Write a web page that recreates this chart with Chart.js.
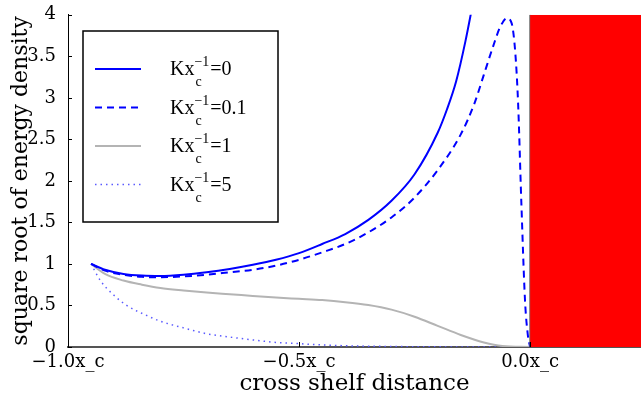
<!DOCTYPE html>
<html lang="en">
<head>
    <meta charset="UTF-8">
    <title>square root of energy density</title>
    <style>
    body {
        margin: 0;
        background-color: #ffffff;
    }
    .wrap {
        width: 641px;
        height: 404px;
    }
    </style>
</head>
<body>
    <div class="wrap"><canvas id="energyChart" width="641" height="404"></canvas></div>

    <script src="https://cdn.jsdelivr.net/npm/chart.js"></script>
    <script>
    // valores (x en unidades de x_c)
    const xK0 = [-0.95, -0.92, -0.88, -0.84, -0.80, -0.75, -0.70, -0.65, -0.60, -0.55, -0.50, -0.45, -0.40, -0.35, -0.30, -0.25, -0.20, -0.18, -0.16, -0.14, -0.12];
    const yK0 = [1.0, 0.93, 0.88, 0.86, 0.855, 0.87, 0.90, 0.94, 0.99, 1.05, 1.13, 1.24, 1.36, 1.53, 1.76, 2.08, 2.58, 2.86, 3.20, 3.68, 4.25];

    const xK01 = [-0.95, -0.92, -0.88, -0.84, -0.80, -0.75, -0.70, -0.65, -0.60, -0.55, -0.50, -0.45, -0.40, -0.35, -0.30, -0.25, -0.20, -0.15, -0.12, -0.10, -0.08, -0.065, -0.05, -0.04, -0.032, -0.026, -0.019, -0.011, -0.005, 0.0];
    const yK01 = [1.0, 0.92, 0.87, 0.845, 0.84, 0.85, 0.87, 0.90, 0.93, 0.98, 1.05, 1.14, 1.24, 1.38, 1.56, 1.80, 2.13, 2.56, 2.94, 3.28, 3.62, 3.85, 3.96, 3.90, 3.54, 2.94, 1.75, 0.56, 0.15, 0.0];

    const xK1 = [-0.95, -0.92, -0.88, -0.84, -0.80, -0.75, -0.70, -0.65, -0.60, -0.55, -0.50, -0.45, -0.40, -0.35, -0.30, -0.25, -0.20, -0.15, -0.10, -0.06, 0.0];
    const yK1 = [1.0, 0.88, 0.80, 0.75, 0.71, 0.68, 0.655, 0.635, 0.615, 0.595, 0.58, 0.565, 0.54, 0.505, 0.45, 0.365, 0.255, 0.145, 0.055, 0.012, 0.0];

    const xK5 = [-0.95, -0.93, -0.90, -0.87, -0.83, -0.80, -0.75, -0.70, -0.65, -0.60, -0.55, -0.50, -0.45, -0.40, -0.30, -0.20, -0.10, 0.0];
    const yK5 = [1.0, 0.80, 0.62, 0.49, 0.38, 0.31, 0.23, 0.16, 0.12, 0.085, 0.055, 0.04, 0.025, 0.015, 0.006, 0.002, 0.0, 0.0];

    // zona roja (pared) y borde
    const xWall = [0.0, 0.24];
    const yWall = [4, 4];

    const xTickValues = [-1.0, -0.5, 0.0];
    const xTickLabels = ['\u22121.0x_c', '\u22120.5x_c', '0.0x_c'];
    const yTickValues = [0, 0.5, 1, 1.5, 2, 2.5, 3, 3.5, 4];
    const yTickLabels = ['0', '0.5', '1', '1.5', '2', '2.5', '3', '3.5', '4'];

    const legendK = ['0', '0.1', '1', '5'];

    function puntos(xs, ys) {
        return xs.map((x, i) => ({ x: x, y: ys[i] }));
    }

    const series = [
        { data: puntos(xK0, yK0), color: '#0000ff', width: 2, dash: [] },
        { data: puntos(xK01, yK01), color: '#0000ff', width: 2, dash: [7, 5] },
        { data: puntos(xK1, yK1), color: '#b4b4b4', width: 2, dash: [] },
        { data: puntos(xK5, yK5), color: '#5a5aff', width: 1.5, dash: [1.5, 4] }
    ];

    // leyenda propia con subindice y superindice
    const leyenda = {
        id: 'leyenda',
        afterDatasetsDraw(chart) {
            const ctx = chart.ctx;
            ctx.save();
            ctx.fillStyle = '#ffffff';
            ctx.fillRect(83, 31, 195, 191);
            ctx.strokeStyle = '#000000';
            ctx.lineWidth = 1.5;
            ctx.strokeRect(83, 31, 195, 191);
            legendK.forEach((k, i) => {
                const s = series[i];
                const y = 69 + i * 38.5;
                ctx.beginPath();
                ctx.strokeStyle = s.color;
                ctx.lineWidth = s.width;
                ctx.setLineDash(s.dash);
                ctx.moveTo(95, y);
                ctx.lineTo(141, y);
                ctx.stroke();
                ctx.setLineDash([]);
                ctx.fillStyle = '#000000';
                ctx.textBaseline = 'alphabetic';
                ctx.textAlign = 'left';
                ctx.font = '20px "Liberation Serif"';
                ctx.fillText('Kx', 170, y + 6);
                const w = ctx.measureText('Kx').width;
                ctx.font = '14px "Liberation Serif"';
                ctx.fillText('\u22121', 170 + w, y - 3);
                ctx.fillText('c', 170 + w + 1, y + 17);
                const w2 = ctx.measureText('\u22121').width;
                ctx.font = '20px "Liberation Serif"';
                ctx.fillText('=' + k, 170 + w + w2 + 1, y + 6);
            });
            ctx.restore();
        }
    };

    // marcas de ticks hacia adentro
    const ticksAdentro = {
        id: 'ticksAdentro',
        afterDraw(chart) {
            const ctx = chart.ctx;
            const xs = chart.scales.x;
            const ys = chart.scales.y;
            const area = chart.chartArea;
            ctx.save();
            ctx.strokeStyle = '#000000';
            ctx.lineWidth = 1;
            yTickValues.forEach((v) => {
                const py = Math.round(ys.getPixelForValue(v)) + 0.5;
                ctx.beginPath();
                ctx.moveTo(area.left, py);
                ctx.lineTo(area.left + 4, py);
                ctx.stroke();
            });
            xTickValues.forEach((v) => {
                const px = Math.round(xs.getPixelForValue(v)) + 0.5;
                ctx.beginPath();
                ctx.moveTo(px, area.bottom);
                ctx.lineTo(px, area.bottom - 5);
                ctx.stroke();
            });
            ctx.restore();
        }
    };

    const datasets = [
        {
            data: puntos(xWall, yWall),
            borderWidth: 0,
            backgroundColor: '#ff0000',
            fill: 'origin',
            pointRadius: 0
        },
        {
            data: puntos([0, 0], [0, 4]),
            borderColor: '#555555',
            borderWidth: 1.5,
            pointRadius: 0
        }
    ];
    series.forEach((s) => {
        datasets.push({
            data: s.data,
            borderColor: s.color,
            borderWidth: s.width,
            borderDash: s.dash,
            pointRadius: 0,
            fill: false,
            cubicInterpolationMode: 'monotone'
        });
    });

    new Chart(document.getElementById('energyChart').getContext('2d'), {
        type: 'line',
        data: { datasets: datasets },
        options: {
            responsive: false,
            animation: false,
            layout: { padding: { top: 11, right: 0, left: 0, bottom: 0 } },
            plugins: { legend: { display: false }, tooltip: { enabled: false } },
            scales: {
                x: {
                    type: 'linear',
                    min: -1.0,
                    max: 0.24,
                    afterFit: (scale) => { scale.height = 57; },
                    afterBuildTicks: (scale) => { scale.ticks = xTickValues.map((v) => ({ value: v })); },
                    grid: { display: false },
                    border: { color: '#555555', width: 2 },
                    ticks: {
                        color: '#000000',
                        padding: -3,
                        maxRotation: 0,
                        font: { family: 'DejaVu Serif', size: 18 },
                        callback: (v) => xTickLabels[xTickValues.indexOf(v)]
                    },
                    title: {
                        display: true,
                        text: 'cross shelf distance',
                        color: '#000000',
                        font: { family: 'DejaVu Serif', size: 23 },
                        padding: { top: 0, bottom: 6 }
                    }
                },
                y: {
                    type: 'linear',
                    min: 0,
                    max: 4,
                    afterFit: (scale) => { scale.width = 68; },
                    afterBuildTicks: (scale) => { scale.ticks = yTickValues.map((v) => ({ value: v })); },
                    grid: { display: false },
                    border: { color: '#000000', width: 1 },
                    ticks: {
                        color: '#000000',
                        padding: 4,
                        font: { family: 'DejaVu Serif', size: 18 },
                        callback: (v) => yTickLabels[yTickValues.indexOf(v)]
                    },
                    title: {
                        display: true,
                        text: 'square root of energy density',
                        color: '#000000',
                        font: { family: 'DejaVu Serif', size: 22 },
                        padding: { top: 8, bottom: 0 }
                    }
                }
            }
        },
        plugins: [leyenda, ticksAdentro]
    });
    </script>
</body>
</html>
